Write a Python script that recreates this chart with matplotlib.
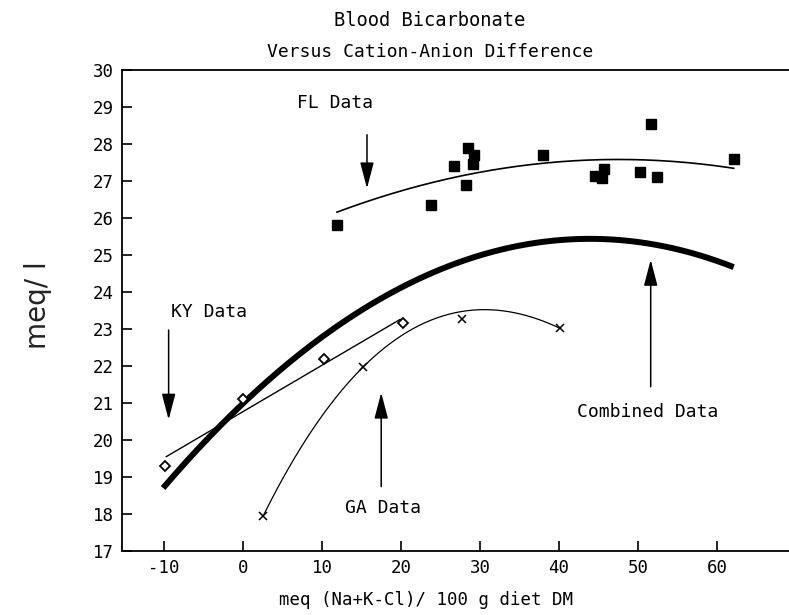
import numpy as np
import matplotlib
matplotlib.use("Agg")
import matplotlib.pyplot as plt

plt.rcParams['axes.unicode_minus'] = False

# ---- data ----
fl_x = [11.9, 23.8, 26.7, 28.2, 28.5, 29.2, 29.1, 38.0, 44.6, 45.7, 45.4, 50.3, 52.4, 51.6, 62.2]
fl_y = [25.8, 26.35, 27.4, 26.9, 27.9, 27.7, 27.45, 27.7, 27.14, 27.32, 27.07, 27.24, 27.11, 28.54, 27.6]

ky_x = [-9.9, 0.0, 10.2, 20.3]
ky_y = [19.3, 21.12, 22.18, 23.17]

ga_x = [2.6, 15.2, 27.7, 40.1]
ga_y = [17.95, 21.98, 23.27, 23.02]

# points
fl_curve_x = [11.9, 30.0, 48.1, 62.1]
fl_curve_y = [26.16, 27.23, 27.59, 27.34]
comb_curve_x = [-10.1, 0.0, 10.0, 43.5, 62.1]
comb_curve_y = [18.69, 21.0, 22.79, 25.42, 24.68]
ky_line_x = [-9.7, 19.9]
ky_line_y = [19.55, 23.26]
ga_curve_x = [2.57, 15.23, 26.6, 30.4, 40.1]
ga_curve_y = [17.95, 21.98, 23.42, 23.53, 23.02]

x_ticks = [-10, 0, 10, 20, 30, 40, 50, 60]
y_ticks = list(range(17, 31))

W, H = 789, 615
fig = plt.figure(figsize=(W / 100, H / 100), dpi=100)
ax = fig.add_axes([122 / W, 64 / H, (789 - 122) / W, 481 / H])

mono = 'DejaVu Sans Mono'

def smooth(xs, ys, deg):
    c = np.polyfit(xs, ys, deg)
    xx = np.linspace(min(xs), max(xs), 200)
    return xx, np.polyval(c, xx)

# curves
xx, yy = smooth(comb_curve_x, comb_curve_y, 2)
ax.plot(xx, yy, color='black', lw=4.3, solid_capstyle='butt')
xx, yy = smooth(fl_curve_x, fl_curve_y, 2)
ax.plot(xx, yy, color='black', lw=1.2)
ax.plot(ky_line_x, ky_line_y, color='black', lw=1.0)
xx, yy = smooth(ga_curve_x, ga_curve_y, 3)
ax.plot(xx, yy, color='black', lw=0.9)

# points
ax.plot(fl_x, fl_y, 's', color='black', ms=6.5, ls='none')
ax.plot(ky_x, ky_y, 'D', mfc='white', mec='black', mew=1.3, ms=4.8, ls='none')
ax.plot(ga_x, ga_y, 'x', color='black', mew=1.1, ms=6, ls='none')

# arrows and labels
aprops = dict(arrowstyle='-|>,head_length=1.6,head_width=0.42', color='black',
              lw=1.1, shrinkA=0, shrinkB=0)
ax.annotate('', xy=(15.7, 26.8), xytext=(15.7, 28.25), arrowprops=aprops)
ax.annotate('', xy=(-9.4, 20.55), xytext=(-9.4, 22.97), arrowprops=aprops)
ax.annotate('', xy=(17.5, 21.28), xytext=(17.5, 18.74), arrowprops=aprops)
ax.annotate('', xy=(51.6, 24.87), xytext=(51.6, 21.44), arrowprops=aprops)

fs = 13
ax.text(11.6, 29.1, 'FL Data', family=mono, fontsize=fs, ha='center', va='center')
ax.text(-4.3, 23.47, 'KY Data', family=mono, fontsize=fs, ha='center', va='center')
ax.text(17.7, 18.15, 'GA Data', family=mono, fontsize=fs, ha='center', va='center')
ax.text(51.2, 20.76, 'Combined Data', family=mono, fontsize=fs, ha='center', va='center')

# axes
ax.set_xlim(-15.3, 69.1)
ax.set_ylim(17, 30)
ax.set_xticks(x_ticks)
ax.set_xticklabels([str(v) for v in x_ticks], family=mono, fontsize=12.5)
ax.set_yticks(y_ticks)
ax.set_yticklabels([str(v) for v in y_ticks], family=mono, fontsize=12.5)
ax.tick_params(direction='in', length=7, width=1.2, pad=6)
ax.spines['right'].set_visible(False)
for s in ['left', 'bottom', 'top']:
    ax.spines[s].set_linewidth(1.3)

ax.set_xlabel('meq (Na+K-Cl)/ 100 g diet DM', family=mono, fontsize=12.5)
ax.xaxis.set_label_coords((426 - 122) / 667, -40 / 481)
fig.text(38 / W, 1 - 305 / H, 'meq/ l', rotation=90, fontsize=20, ha='center', va='center',
         color='#222222')

fig.text(430 / W, 1 - 21 / H, 'Blood Bicarbonate', family=mono, fontsize=13.5,
         ha='center', va='center')
fig.text(430 / W, 1 - 52 / H, 'Versus Cation-Anion Difference', family=mono, fontsize=13,
         ha='center', va='center')

fig.savefig('out.png', dpi=100)
